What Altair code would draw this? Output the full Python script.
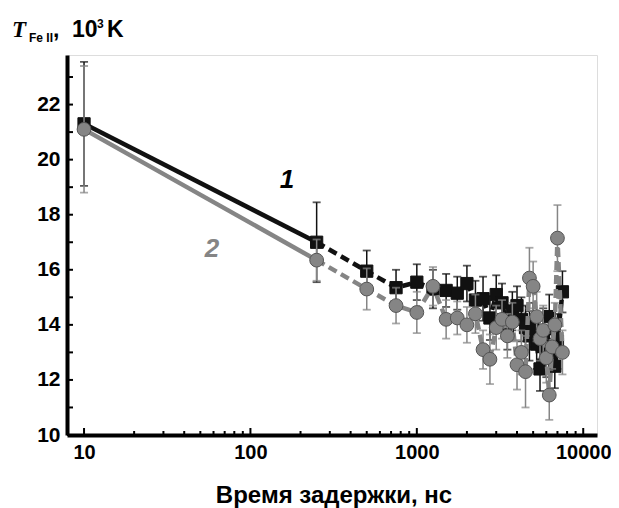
import altair as alt
import pandas as pd

# ---- data ----
delay = [10, 250, 500, 750, 1000, 1250, 1500, 1750, 2000, 2250, 2500, 2750, 3000, 3250, 3500,
         3750, 4000, 4250, 4500, 4750, 5000, 5250, 5500, 5750, 6000, 6250, 6500, 6750, 7000, 7500]
t1 = [21.3, 17.0, 15.95, 15.35, 15.55, 15.3, 15.25, 15.15, 15.5, 14.9, 14.95, 14.25, 15.1, 14.8, 13.9,
      14.5, 14.7, 14.2, 13.9, 13.6, 14.0, 13.3, 12.4, 13.7, 13.0, 14.3, 13.2, 12.5, 13.4, 15.2]
e1 = [2.25, 1.45, 0.75, 0.65, 0.65, 0.7, 0.6, 0.6, 0.65, 0.7, 0.8, 0.8, 0.7, 0.7, 0.8,
      0.7, 0.7, 0.8, 0.8, 0.9, 0.8, 0.9, 0.8, 0.9, 0.9, 0.8, 0.9, 0.8, 1.0, 0.75]
t2 = [21.1, 16.35, 15.3, 14.7, 14.45, 15.4, 14.2, 14.25, 14.0, 14.4, 13.1, 12.75, 13.9, 14.2, 13.6,
      14.1, 12.55, 13.0, 12.3, 15.7, 15.4, 14.3, 13.5, 13.8, 12.8, 11.45, 13.2, 14.0, 17.15, 13.0]
e2 = [2.3, 0.75, 0.75, 0.65, 0.75, 0.7, 0.7, 0.6, 0.65, 0.7, 0.7, 0.9, 0.8, 0.7, 0.8,
      0.7, 0.9, 0.8, 1.3, 1.1, 0.9, 0.9, 0.8, 0.9, 0.9, 0.9, 0.8, 0.8, 1.2, 0.8]

x_major = [10, 100, 1000, 10000]
x_minor = [20, 30, 40, 50, 60, 70, 80, 90, 200, 300, 400, 500, 600, 700, 800, 900,
           2000, 3000, 4000, 5000, 6000, 7000, 8000, 9000]
y_ticks = list(range(10, 24))

W, H = 530, 380
BLACK = "#111111"
GRAY = "#858585"
FONT = "Liberation Sans"

def frame(t, e):
    return pd.DataFrame({"x": delay, "y": t, "lo": [a - b for a, b in zip(t, e)],
                         "hi": [a + b for a, b in zip(t, e)]})

d1 = frame(t1, e1)
d2 = frame(t2, e2)

xs = alt.Scale(type="log", domain=[7.9, 12100], nice=False)
ys = alt.Scale(domain=[10, 23.8], nice=False)

xax = alt.Axis(values=x_major, format="d", ticks=False, grid=False, domainWidth=4,
               domainColor="black", labelFont=FONT, labelFontSize=20, labelFontWeight="bold",
               labelColor="black", labelPadding=7, labelBound=False, labelOverlap=False,
               title=None)
yax = alt.Axis(values=list(range(10, 24, 2)), format="d", ticks=False, grid=False, domainWidth=4,
               domainColor="black", labelFont=FONT, labelFontSize=21, labelFontWeight="bold",
               labelColor="black", labelPadding=7, title=None)


def series(df, color, shape, size):
    base = alt.Chart(df)
    solid = alt.Chart(df.iloc[:2]).mark_line(color=color, strokeWidth=4.5).encode(
        x=alt.X("x:Q", scale=xs, axis=xax), y=alt.Y("y:Q", scale=ys, axis=yax))
    dashed = alt.Chart(df.iloc[1:]).mark_line(color=color, strokeWidth=4.5,
                                              strokeDash=[9, 5]).encode(
        x=alt.X("x:Q", scale=xs), y=alt.Y("y:Q", scale=ys))
    bars = base.mark_rule(color=color, strokeWidth=1.5).encode(
        x=alt.X("x:Q", scale=xs), y=alt.Y("lo:Q", scale=ys), y2="hi:Q")
    cap_lo = base.mark_tick(color=color, thickness=1.8, size=8, orient="horizontal").encode(
        x=alt.X("x:Q", scale=xs), y=alt.Y("lo:Q", scale=ys))
    cap_hi = base.mark_tick(color=color, thickness=1.8, size=8, orient="horizontal").encode(
        x=alt.X("x:Q", scale=xs), y=alt.Y("hi:Q", scale=ys))
    pts = base.mark_point(shape=shape, filled=True, color=color, size=size, opacity=1,
                          stroke="#555555" if color == GRAY else BLACK, strokeWidth=1).encode(
        x=alt.X("x:Q", scale=xs), y=alt.Y("y:Q", scale=ys))
    return [solid, dashed, bars, cap_lo, cap_hi, pts]


# inward ticks
xmaj = alt.Chart(pd.DataFrame({"v": x_major})).mark_rule(color="black", strokeWidth=2).encode(
    x=alt.X("v:Q", scale=xs), y=alt.value(H), y2=alt.value(H - 7))
xmin = alt.Chart(pd.DataFrame({"v": x_minor})).mark_rule(color="black", strokeWidth=2).encode(
    x=alt.X("v:Q", scale=xs), y=alt.value(H), y2=alt.value(H - 4))
ytk = alt.Chart(pd.DataFrame({"v": y_ticks})).mark_rule(color="black", strokeWidth=2).encode(
    y=alt.Y("v:Q", scale=ys), x=alt.value(0), x2=alt.value(6))


def txt(s, x, y, size, color="black", font=FONT, style="normal", weight="bold", align="left",
        baseline="alphabetic"):
    return alt.Chart(pd.DataFrame({"t": [s]})).mark_text(
        font=font, fontSize=size, fontStyle=style, fontWeight=weight, color=color,
        align=align, baseline=baseline).encode(x=alt.value(x), y=alt.value(y), text="t:N")


texts = [
    txt("T", -55, -18, 23, font="Liberation Serif", style="italic"),
    txt("Fe II", -38, -13, 12),
    txt(",", -14, -18, 23),
    txt("10", 5, -18, 23),
    txt("3", 30, -27, 12),
    txt("K", 40, -18, 23),
    txt("Время задержки, нс", 267, 448, 24, align="center"),
    txt("1", 220, 125, 26, style="italic", align="center", baseline="middle"),
    txt("2", 145, 194, 26, color=GRAY, style="italic", align="center", baseline="middle"),
]

layers = series(d1, BLACK, "square", 150) + series(d2, GRAY, "circle", 190) + [xmaj, xmin, ytk] + texts

chart = alt.layer(*layers).properties(
    width=W, height=H,
    autosize=alt.AutoSizeParams(type="none"),
    padding={"left": 59, "top": 47, "right": 14, "bottom": 73},
).configure_view(stroke=None).configure(background="white")

chart.save("out.html", embed_options={"renderer": "svg", "actions": False})
